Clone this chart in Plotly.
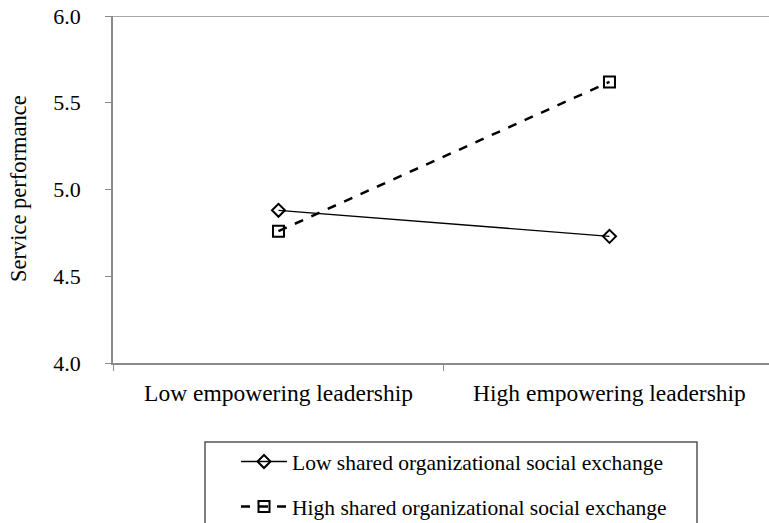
import plotly.graph_objects as go

categories = ["Low empowering leadership", "High empowering leadership"]
low_exchange = [4.88, 4.73]
high_exchange = [4.76, 5.62]
series_names = ["Low shared organizational social exchange",
                "High shared organizational social exchange"]
y_ticks = [4.0, 4.5, 5.0, 5.5, 6.0]
y_title = "Service performance"

FONT = "Liberation Serif"
AXIS_GRAY = "#8a8a8a"

ML, MT, MB, MR = 113, 16, 160, 0
PW = 769 - ML - MR
PH = 523 - MT - MB

fig = go.Figure()
fig.add_trace(go.Scatter(
    x=categories, y=low_exchange, name=series_names[0], mode="lines+markers",
    line=dict(color="black", width=1.3),
    marker=dict(symbol="diamond-open", size=10, color="black", line=dict(width=2)),
    legendgroup="a",
))
fig.add_trace(go.Scatter(
    x=categories, y=high_exchange, name=series_names[1], mode="lines+markers",
    line=dict(color="black", width=2.5, dash="dash"),
    marker=dict(symbol="square-open", size=11, color="black", line=dict(width=2)),
    legendgroup="b",
))

fig.update_layout(
    width=769, height=523,
    margin=dict(l=ML, r=MR, t=MT, b=MB, autoexpand=False),
    paper_bgcolor="white", plot_bgcolor="white",
    font=dict(family=FONT, color="black", size=20),
    showlegend=True,
    legend=dict(
        xref="container", yref="container",
        x=236 / 769, y=(523 - 441) / 523, xanchor="left", yanchor="top",
        font=dict(family=FONT, size=21.5, color="black"),
        bgcolor="rgba(0,0,0,0)", borderwidth=0,
        traceorder="grouped", tracegroupgap=14, itemwidth=46,
    ),
    xaxis=dict(
        type="category", range=[-0.5, 1.482],
        showline=True, linecolor=AXIS_GRAY, linewidth=1.5,
        ticks="outside", tickson="boundaries", ticklen=6, tickcolor=AXIS_GRAY,
        showgrid=False, zeroline=False,
        tickfont=dict(family=FONT, size=23.5),
        ticklabelstandoff=8,
    ),
    yaxis=dict(
        range=[4, 6], tickvals=y_ticks, ticktext=[f"{v:.1f}" for v in y_ticks],
        showline=True, linecolor=AXIS_GRAY, linewidth=1.5,
        ticks="outside", ticklen=6, tickcolor=AXIS_GRAY,
        showgrid=False, zeroline=False,
        tickfont=dict(family=FONT, size=22),
        ticklabelstandoff=20,
    ),
    annotations=[
        dict(text=y_title, xref="paper", yref="paper",
             x=(18 - ML) / PW, y=(363 - 189) / PH, xanchor="center", yanchor="middle",
             textangle=-90, showarrow=False,
             font=dict(family=FONT, size=22.5, color="black")),
    ],
    shapes=[
        dict(type="line", xref="paper", yref="y", x0=0, x1=1, y0=6, y1=6,
             line=dict(color=AXIS_GRAY, width=1.5)),
        dict(type="rect", xref="paper", yref="paper",
             x0=(205 - ML) / PW, x1=(697 - ML) / PW,
             y0=(363 - 442) / PH, y1=(363 - 560) / PH,
             line=dict(color="#555555", width=1.5), fillcolor="rgba(0,0,0,0)"),
    ],
)

fig.write_html("out.html", config={"displayModeBar": False},
               post_script="document.body.style.margin='0';")
